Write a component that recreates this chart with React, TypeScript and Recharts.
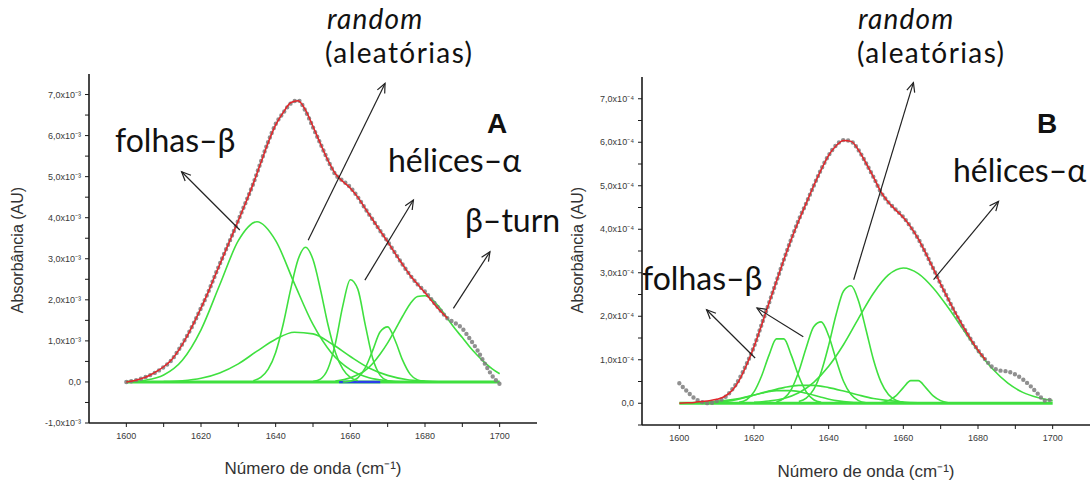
import React from 'react';
import { ComposedChart, Line, XAxis, YAxis, ReferenceLine } from 'recharts';

// ---------- shared categories ----------
const waveGrid = [1600, 1602, 1604, 1606, 1608, 1610, 1612, 1614, 1616, 1618, 1620, 1622, 1624, 1626, 1628, 1630, 1632, 1634, 1636, 1638, 1640, 1642, 1644, 1646, 1648, 1650, 1652, 1654, 1656, 1658, 1660, 1662, 1664, 1666, 1668, 1670, 1672, 1674, 1676, 1678, 1680, 1682, 1684, 1686, 1688, 1690, 1692, 1694, 1696, 1698, 1700];
const xTicks = [1600, 1610, 1620, 1630, 1640, 1650, 1660, 1670, 1680, 1690, 1700];
const yTicksA = [-1, -0.5, 0, 0.5, 1, 1.5, 2, 2.5, 3, 3.5, 4, 4.5, 5, 5.5, 6, 6.5, 7];
const yTicksB = [-0.5, 0, 0.5, 1, 1.5, 2, 2.5, 3, 3.5, 4, 4.5, 5, 5.5, 6, 6.5, 7];

// ---------- panel A (values x10^-3) ----------
const absA = [0.0, 0.03, 0.08, 0.15, 0.24, 0.36, 0.52, 0.78, 1.08, 1.42, 1.8, 2.2, 2.65, 3.08, 3.5, 3.94, 4.38, 4.83, 5.35, 5.85, 6.28, 6.55, 6.78, 6.86, 6.6, 6.2, 5.8, 5.4, 5.05, 4.9, 4.74, 4.5, 4.22, 3.95, 3.68, 3.42, 3.14, 2.86, 2.6, 2.38, 2.2, 1.98, 1.76, 1.55, 1.44, 1.3, 1.05, 0.78, 0.45, 0.15, -0.05];
const fitA = [0.0, 0.03, 0.08, 0.15, 0.25, 0.37, 0.53, 0.77, 1.07, 1.42, 1.8, 2.2, 2.64, 3.07, 3.5, 3.93, 4.37, 4.83, 5.33, 5.83, 6.26, 6.56, 6.8, 6.85, 6.62, 6.22, 5.8, 5.4, 5.07, 4.88, 4.72, 4.5, 4.22, 3.95, 3.68, 3.41, 3.13, 2.86, 2.6, 2.38, 2.17, 1.95, 1.74, 1.55];

const sheetAx = [1600, 1605, 1610, 1615, 1620, 1625, 1630, 1635, 1640, 1645, 1650, 1655, 1660, 1665, 1670, 1675];
const sheetAy = [0.0, 0.04, 0.17, 0.53, 1.27, 2.36, 3.44, 3.9, 3.44, 2.4, 1.4, 0.7, 0.3, 0.1, 0.03, 0.0];
const randomAx = [1634, 1636, 1638, 1640, 1642, 1644, 1646, 1648, 1650, 1652, 1654, 1656, 1658, 1660, 1662];
const randomAy = [0.03, 0.11, 0.31, 0.72, 1.4, 2.25, 2.98, 3.28, 2.98, 2.25, 1.4, 0.72, 0.31, 0.11, 0.03];
const broadAx = [1610, 1615, 1620, 1625, 1630, 1635, 1640, 1645, 1650, 1655, 1660, 1665, 1670, 1675, 1680, 1685];
const broadAy = [0.01, 0.03, 0.09, 0.22, 0.44, 0.75, 1.04, 1.21, 1.17, 0.93, 0.62, 0.34, 0.16, 0.06, 0.02, 0.0];
const helixAx = [1650, 1652, 1654, 1656, 1658, 1660, 1662, 1664, 1666, 1668, 1670, 1672];
const helixAy = [0.01, 0.07, 0.32, 0.94, 1.86, 2.49, 2.26, 1.39, 0.57, 0.16, 0.03, 0.0];
const smallAx = [1658, 1660, 1662, 1664, 1666, 1668, 1670, 1672, 1674, 1676, 1678, 1680];
const smallAy = [0.0, 0.02, 0.1, 0.34, 0.77, 1.22, 1.34, 1.01, 0.53, 0.19, 0.05, 0.01];
const turnAx = [1656, 1660, 1664, 1666, 1668, 1670, 1672, 1674, 1676, 1678, 1680, 1682, 1684, 1686, 1688, 1690, 1692, 1694, 1696, 1698, 1700];
const turnAy = [0.02, 0.1, 0.28, 0.45, 0.68, 0.95, 1.27, 1.6, 1.9, 2.08, 2.1, 2.0, 1.8, 1.55, 1.3, 1.08, 0.85, 0.65, 0.47, 0.32, 0.2];
const baseX = [1600, 1700];
const baseY = [0, 0];
const blueAx = [1657, 1668];
const blueAy = [0, 0];

// ---------- panel B ----------
const absB = [0.46, 0.28, 0.12, 0.03, 0.0, 0.05, 0.12, 0.3, 0.55, 0.9, 1.3, 1.8, 2.3, 2.8, 3.3, 3.78, 4.22, 4.6, 5.0, 5.38, 5.7, 5.93, 6.05, 6.02, 5.82, 5.52, 5.2, 4.85, 4.62, 4.45, 4.28, 4.05, 3.78, 3.45, 3.1, 2.74, 2.4, 2.06, 1.76, 1.48, 1.22, 1.0, 0.82, 0.75, 0.73, 0.66, 0.55, 0.4, 0.22, 0.06, 0.1];
const fitB = [0.0, 0.01, 0.02, 0.04, 0.06, 0.09, 0.15, 0.28, 0.52, 0.88, 1.3, 1.79, 2.3, 2.8, 3.3, 3.77, 4.2, 4.6, 5.0, 5.37, 5.7, 5.92, 6.04, 6.02, 5.82, 5.52, 5.2, 4.86, 4.62, 4.44, 4.27, 4.05, 3.78, 3.45, 3.1, 2.74, 2.4, 2.07, 1.77, 1.48, 1.22, 1.0];

const sheet1Bx = [1616, 1618, 1620, 1622, 1624, 1626, 1628, 1630, 1632, 1634, 1636, 1638];
const sheet1By = [0.02, 0.08, 0.26, 0.62, 1.1, 1.48, 1.48, 1.1, 0.62, 0.26, 0.08, 0.02];
const sheet2Bx = [1626, 1628, 1630, 1632, 1634, 1636, 1638, 1640, 1642, 1644, 1646, 1648, 1650];
const sheet2By = [0.03, 0.11, 0.32, 0.73, 1.28, 1.76, 1.87, 1.55, 1.0, 0.5, 0.2, 0.06, 0.01];
const randomBx = [1632, 1634, 1636, 1638, 1640, 1642, 1644, 1646, 1648, 1650, 1652, 1654, 1656, 1658, 1660];
const randomBy = [0.04, 0.12, 0.32, 0.72, 1.33, 2.04, 2.58, 2.7, 2.35, 1.69, 1.0, 0.49, 0.2, 0.07, 0.02];
const helixBx = [1620, 1624, 1628, 1632, 1636, 1640, 1644, 1648, 1652, 1656, 1660, 1664, 1668, 1672, 1676, 1680, 1684, 1688, 1692, 1696, 1700];
const helixBy = [0.02, 0.05, 0.11, 0.24, 0.48, 0.85, 1.35, 1.95, 2.53, 2.95, 3.11, 2.98, 2.65, 2.2, 1.7, 1.2, 0.78, 0.46, 0.25, 0.13, 0.06];
const smallBx = [1654, 1656, 1658, 1660, 1662, 1664, 1666, 1668, 1670, 1672];
const smallBy = [0.01, 0.06, 0.17, 0.36, 0.52, 0.52, 0.36, 0.17, 0.06, 0.01];
const broadBx = [1604, 1608, 1612, 1616, 1620, 1624, 1628, 1632, 1636, 1640, 1644, 1648, 1652, 1656, 1660, 1664];
const broadBy = [0.01, 0.03, 0.06, 0.11, 0.19, 0.28, 0.36, 0.41, 0.41, 0.36, 0.28, 0.19, 0.11, 0.06, 0.03, 0.01];
const broad2Bx = [1606, 1610, 1614, 1618, 1622, 1626, 1630, 1634, 1638, 1642, 1646, 1650];
const broad2By = [0.01, 0.02, 0.06, 0.14, 0.23, 0.29, 0.29, 0.23, 0.14, 0.06, 0.02, 0.01];

// annotation arrows (tail -> head) in data units
const arrowsA = [
  { x1: 1630.4, y1: 3.7, x2: 1614.8, y2: 5.12 },
  { x1: 1648.7, y1: 3.45, x2: 1669.3, y2: 7.27 },
  { x1: 1663.9, y1: 2.48, x2: 1676.9, y2: 4.43 },
  { x1: 1687.6, y1: 1.79, x2: 1697.4, y2: 3.17 },
];
const arrowsB = [
  { x1: 1620.3, y1: 1.04, x2: 1607.3, y2: 2.15 },
  { x1: 1633.2, y1: 1.53, x2: 1620.8, y2: 2.19 },
  { x1: 1646.7, y1: 2.84, x2: 1662.7, y2: 7.37 },
  { x1: 1668.1, y1: 2.84, x2: 1685.5, y2: 4.64 },
];

type Pt = { x: number; y: number };
const zip = (xs: number[], ys: number[]): Pt[] => ys.map((y, i) => ({ x: xs[i], y }));

const GREEN = '#3fe03f';
const RED = '#e3262b';

type Series = { pts: Pt[]; kind: 'comp' | 'base' | 'blue' | 'dots' | 'fit' };

const seriesA: Series[] = [
  { pts: zip(baseX, baseY), kind: 'base' },
  { pts: zip(blueAx, blueAy), kind: 'blue' },
  { pts: zip(sheetAx, sheetAy), kind: 'comp' },
  { pts: zip(randomAx, randomAy), kind: 'comp' },
  { pts: zip(broadAx, broadAy), kind: 'comp' },
  { pts: zip(helixAx, helixAy), kind: 'comp' },
  { pts: zip(smallAx, smallAy), kind: 'comp' },
  { pts: zip(turnAx, turnAy), kind: 'comp' },
  { pts: zip(waveGrid, absA), kind: 'dots' },
  { pts: zip(waveGrid, fitA), kind: 'fit' },
];

const seriesB: Series[] = [
  { pts: zip(baseX, baseY), kind: 'base' },
  { pts: zip(broadBx, broadBy), kind: 'comp' },
  { pts: zip(broad2Bx, broad2By), kind: 'comp' },
  { pts: zip(sheet1Bx, sheet1By), kind: 'comp' },
  { pts: zip(sheet2Bx, sheet2By), kind: 'comp' },
  { pts: zip(randomBx, randomBy), kind: 'comp' },
  { pts: zip(helixBx, helixBy), kind: 'comp' },
  { pts: zip(smallBx, smallBy), kind: 'comp' },
  { pts: zip(waveGrid, absB), kind: 'dots' },
  { pts: zip(waveGrid, fitB), kind: 'fit' },
];

const ArrowShape = (props: any) => {
  const { x1, y1, x2, y2 } = props;
  if ([x1, y1, x2, y2].some((v) => typeof v !== 'number' || isNaN(v))) return <g />;
  const ang = Math.atan2(y2 - y1, x2 - x1);
  const L = 10;
  const W = 0.42;
  const ax = x2 - L * Math.cos(ang - W);
  const ay = y2 - L * Math.sin(ang - W);
  const bx = x2 - L * Math.cos(ang + W);
  const by = y2 - L * Math.sin(ang + W);
  return (
    <g>
      <line x1={x1} y1={y1} x2={x2} y2={y2} stroke="#222" strokeWidth={1.2} />
      <polyline points={`${ax},${ay} ${x2},${y2} ${bx},${by}`} fill="none" stroke="#222" strokeWidth={1.2} />
    </g>
  );
};

const tickFont = { fontSize: 9, fill: '#3a3a3a', fontFamily: 'Liberation Sans, Arial, sans-serif' };

type PanelProps = {
  left: number;
  width: number;
  margin: { top: number; right: number; bottom: number; left: number };
  yWidth: number;
  yDomain: [number, number];
  yTicks: number[];
  exp: string;
  series: Series[];
  arrows: { x1: number; y1: number; x2: number; y2: number }[];
};

function Panel(p: PanelProps) {
  const fmtY = (v: number) => {
    if (!Number.isInteger(v)) return '';
    if (v === 0) return '0,0';
    return `${v.toFixed(1).replace('.', ',')}x10${p.exp}`;
  };
  const fmtX = (v: number) => (v % 20 === 0 ? String(v) : '');
  const axisLine = { stroke: '#1a1a1a', strokeWidth: 1.6 };
  const tickLine = { stroke: '#1a1a1a', strokeWidth: 1 };
  return (
    <div style={{ position: 'absolute', left: p.left, top: 0 }}>
      <ComposedChart width={p.width} height={483} margin={p.margin}>
        <XAxis xAxisId="xb" type="number" dataKey="x" domain={[1590, 1710]} ticks={xTicks} allowDataOverflow
          tickFormatter={fmtX} height={30} axisLine={axisLine} tickLine={tickLine} tickSize={4} tickMargin={6} tick={tickFont} interval={0} />
        <XAxis xAxisId="xt" orientation="top" type="number" dataKey="x" domain={[1590, 1710]} ticks={xTicks} allowDataOverflow
          height={0} mirror axisLine={axisLine} tickLine={tickLine} tickSize={4} tick={false} interval={0} />
        <YAxis yAxisId="yl" type="number" domain={p.yDomain} ticks={p.yTicks} allowDataOverflow width={p.yWidth}
          tickFormatter={fmtY} axisLine={axisLine} tickLine={tickLine} tickSize={4} tickMargin={4} tick={tickFont} interval={0} />
        <YAxis yAxisId="yr" orientation="right" type="number" domain={p.yDomain} ticks={p.yTicks} allowDataOverflow width={0}
          mirror axisLine={axisLine} tickLine={tickLine} tickSize={4} tick={false} interval={0} />
        {p.series.map((s, i) => {
          const common = { xAxisId: 'xb', yAxisId: 'yl', data: s.pts, dataKey: 'y', dot: false, isAnimationActive: false, activeDot: false } as any;
          if (s.kind === 'base') return <Line key={i} {...common} type="linear" stroke={GREEN} strokeWidth={3} />;
          if (s.kind === 'blue') return <Line key={i} {...common} type="linear" stroke="#2a3ee8" strokeWidth={2.5} />;
          if (s.kind === 'comp') return <Line key={i} {...common} type="monotone" stroke={GREEN} strokeWidth={1.6} />;
          if (s.kind === 'fit') return <Line key={i} {...common} type="monotone" stroke={RED} strokeWidth={1.5} />;
          return <Line key={i} {...common} type="monotone" stroke="#7c7c7c" strokeOpacity={0.85} strokeWidth={4.4} strokeDasharray="0 5" strokeLinecap="round" />;
        })}
        {p.arrows.map((a, i) => (
          <ReferenceLine key={'a' + i} xAxisId="xb" yAxisId="yl" ifOverflow="visible"
            segment={[{ x: a.x1, y: a.y1 }, { x: a.x2, y: a.y2 }]} shape={ArrowShape} />
        ))}
      </ComposedChart>
    </div>
  );
}

const annFont = 'Lato, Carlito, "Open Sans", sans-serif';
const texts = [
  { t: 'random', x: 327, y: 29, italic: true, size: 28, ls: 1.2 },
  { t: '(aleatórias)', x: 325, y: 63, size: 28, ls: 1.4 },
  { t: 'folhas–β', x: 115, y: 152, size: 32, ls: 0 },
  { t: 'hélices–α', x: 388, y: 172, size: 32, ls: 0 },
  { t: 'β–turn', x: 465, y: 232, size: 32, ls: 0 },
  { t: 'random', x: 858, y: 29, italic: true, size: 28, ls: 1.2 },
  { t: '(aleatórias)', x: 857, y: 63, size: 28, ls: 1.4 },
  { t: 'folhas–β', x: 642, y: 290, size: 32, ls: 0 },
  { t: 'hélices–α', x: 953, y: 182, size: 32, ls: 0 },
];

export default function App() {
  return (
    <div style={{ position: 'absolute', left: 0, top: 0, width: 1092, height: 483, background: '#fff', overflow: 'hidden' }}>
      <Panel left={0} width={560} margin={{ top: 74, right: 23, bottom: 30, left: 0 }} yWidth={89}
        yDomain={[-1, 7.5]} yTicks={yTicksA} exp="⁻³" series={seriesA} arrows={arrowsA} />
      <Panel left={560} width={532} margin={{ top: 77, right: 2, bottom: 28, left: 0 }} yWidth={82}
        yDomain={[-0.5, 7.5]} yTicks={yTicksB} exp="⁻⁴" series={seriesB} arrows={arrowsB} />
      <svg width={1092} height={483} style={{ position: 'absolute', left: 0, top: 0, pointerEvents: 'none' }}>
        {texts.map((d, i) => (
          <text key={i} x={d.x} y={d.y} fontFamily={annFont} fontSize={d.size} letterSpacing={d.ls}
            fontStyle={d.italic ? 'italic' : 'normal'} fill="#111">{d.t}</text>
        ))}
        <text x={487} y={133} fontFamily="Liberation Sans, Arial, sans-serif" fontWeight="bold" fontSize={28} fill="#111">A</text>
        <text x={1037} y={133} fontFamily="Liberation Sans, Arial, sans-serif" fontWeight="bold" fontSize={28} fill="#111">B</text>
        <text transform="translate(23,250) rotate(-90)" textAnchor="middle" fontFamily="Liberation Sans, Arial, sans-serif" fontSize={16} fill="#333">Absorbância (AU)</text>
        <text transform="translate(583,250) rotate(-90)" textAnchor="middle" fontFamily="Liberation Sans, Arial, sans-serif" fontSize={16} fill="#333">Absorbância (AU)</text>
        <text x={313} y={474} textAnchor="middle" fontFamily="Liberation Sans, Arial, sans-serif" fontSize={17} fill="#333">Número de onda (cm⁻¹)</text>
        <text x={866} y={477} textAnchor="middle" fontFamily="Liberation Sans, Arial, sans-serif" fontSize={17} fill="#333">Número de onda (cm⁻¹)</text>
      </svg>
    </div>
  );
}
